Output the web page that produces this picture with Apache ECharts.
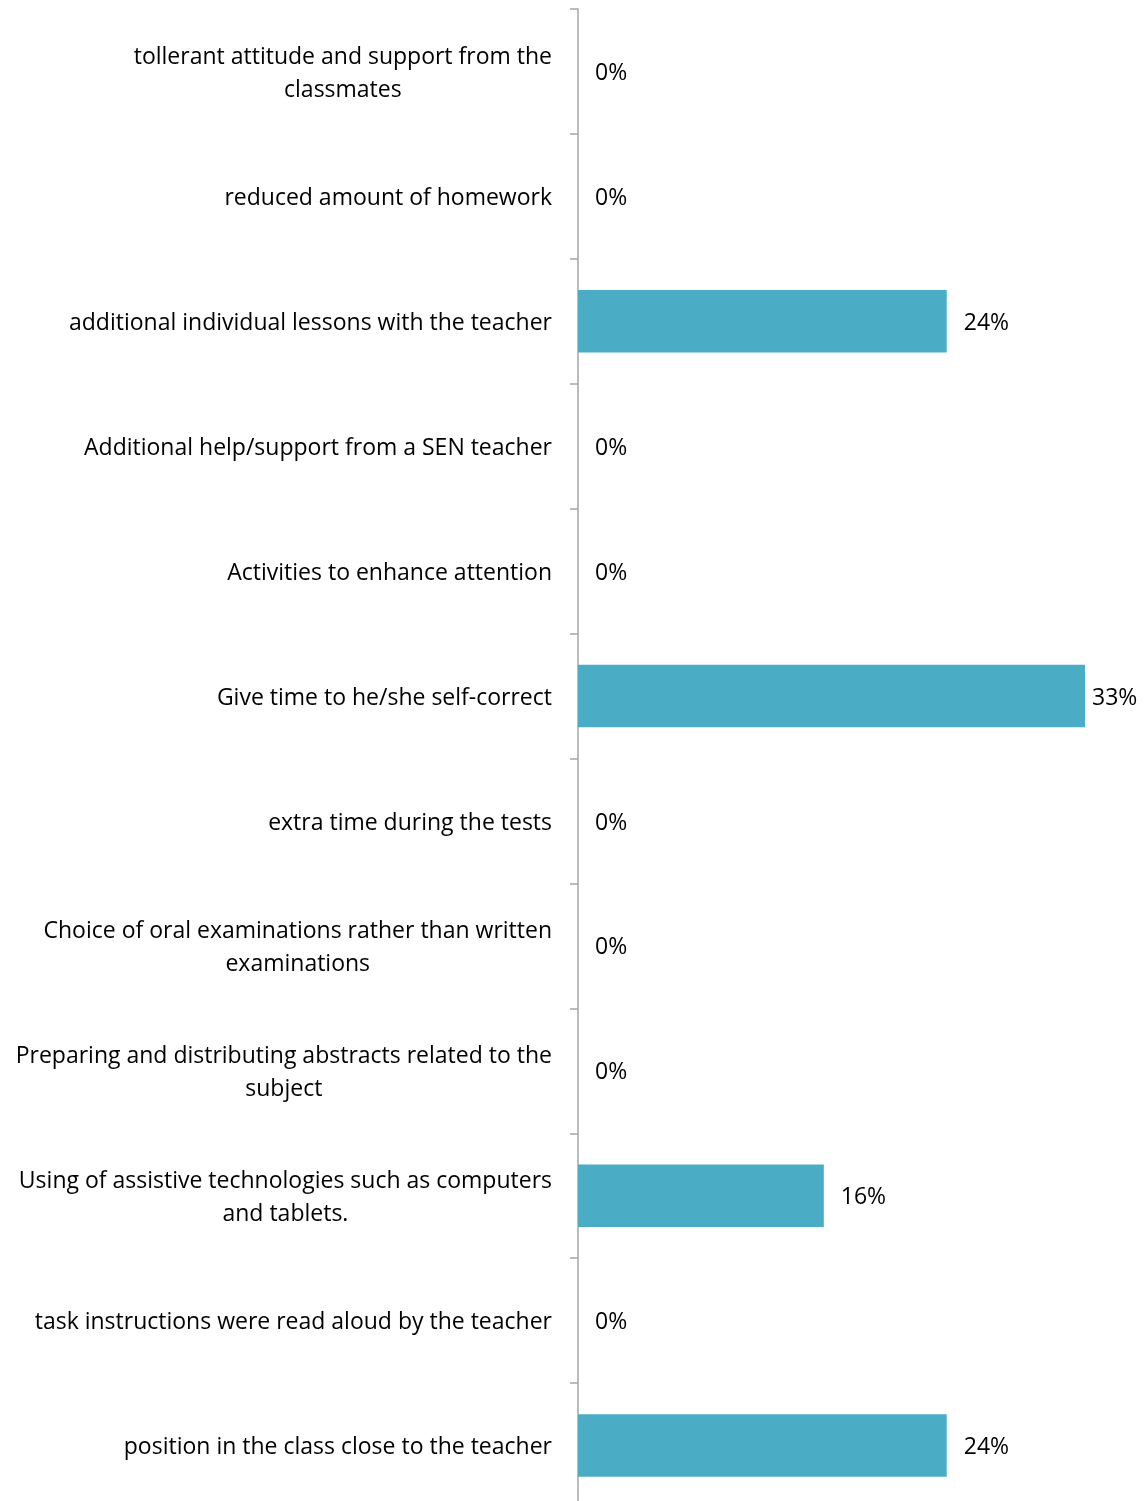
<!DOCTYPE html>
<html>
<head>
<meta charset="utf-8">
<script src="https://cdn.jsdelivr.net/npm/echarts@6/dist/echarts.min.js"></script>
<style>
  html, body { margin: 0; padding: 0; background: #ffffff; overflow: hidden; }
  #chart { width: 1146px; height: 1510px; }
</style>
</head>
<body>
<div id="chart"></div>
<script>
// Support measures, listed top to bottom
var categories = [
  'tollerant attitude and support from the\nclassmates',
  'reduced amount of homework',
  'additional individual lessons with the teacher',
  'Additional help/support from a SEN teacher',
  'Activities to enhance attention',
  'Give time to he/she self-correct',
  'extra time during the tests',
  'Choice of oral examinations rather than written\nexaminations',
  'Preparing and distributing abstracts related to the\nsubject',
  'Using of assistive technologies such as computers\nand tablets.',
  'task instructions were read aloud by the teacher',
  'position in the class close to the teacher'
];

// Share of responses, in percent
var shares = [0, 0, 24, 0, 0, 33, 0, 0, 0, 16, 0, 24];

var FONT = '"Open Sans"';
var SIZE = 23;
var maxShare = Math.max.apply(null, shares);

// The longest bar reaches the plot edge, so its label sits a little closer
var barData = shares.map(function (v) {
  return v === maxShare ? { value: v, label: { distance: 7 } } : v;
});

var chart = echarts.init(document.getElementById('chart'), null, { renderer: 'canvas' });

chart.setOption({
  animation: false,
  backgroundColor: '#ffffff',
  grid: { left: 578, right: 61, top: 9, bottom: 2, containLabel: false },
  xAxis: {
    type: 'value',
    min: 0,
    max: maxShare,
    show: false
  },
  yAxis: {
    type: 'category',
    inverse: true,
    data: categories,
    axisLine: { show: true, lineStyle: { color: '#a6a6a6', width: 1.5 } },
    axisTick: { show: true, inside: false, length: 8, lineStyle: { color: '#a6a6a6', width: 1.5 } },
    splitLine: { show: false },
    axisLabel: {
      interval: 0,
      margin: 26,
      align: 'right',
      color: '#000000',
      fontFamily: FONT,
      fontSize: SIZE,
      lineHeight: 33,
      padding: [4, 0, 0, 0],
      formatter: function (v) {
        // centre each wrapped line within the label block
        return v.split('\n').map(function (l) { return '{c|' + l + '}'; }).join('\n');
      },
      rich: {
        c: { align: 'center', fontFamily: FONT, fontSize: SIZE, lineHeight: 33, color: '#000000' }
      }
    }
  },
  series: [{
    type: 'bar',
    data: barData,
    barWidth: '50%',
    itemStyle: { color: '#4bacc6' },
    label: {
      show: true,
      position: 'right',
      distance: 17,
      offset: [0, 2],
      color: '#000000',
      fontFamily: FONT,
      fontSize: SIZE,
      formatter: function (p) { return p.value + '%'; }
    }
  }]
});
</script>
</body>
</html>
